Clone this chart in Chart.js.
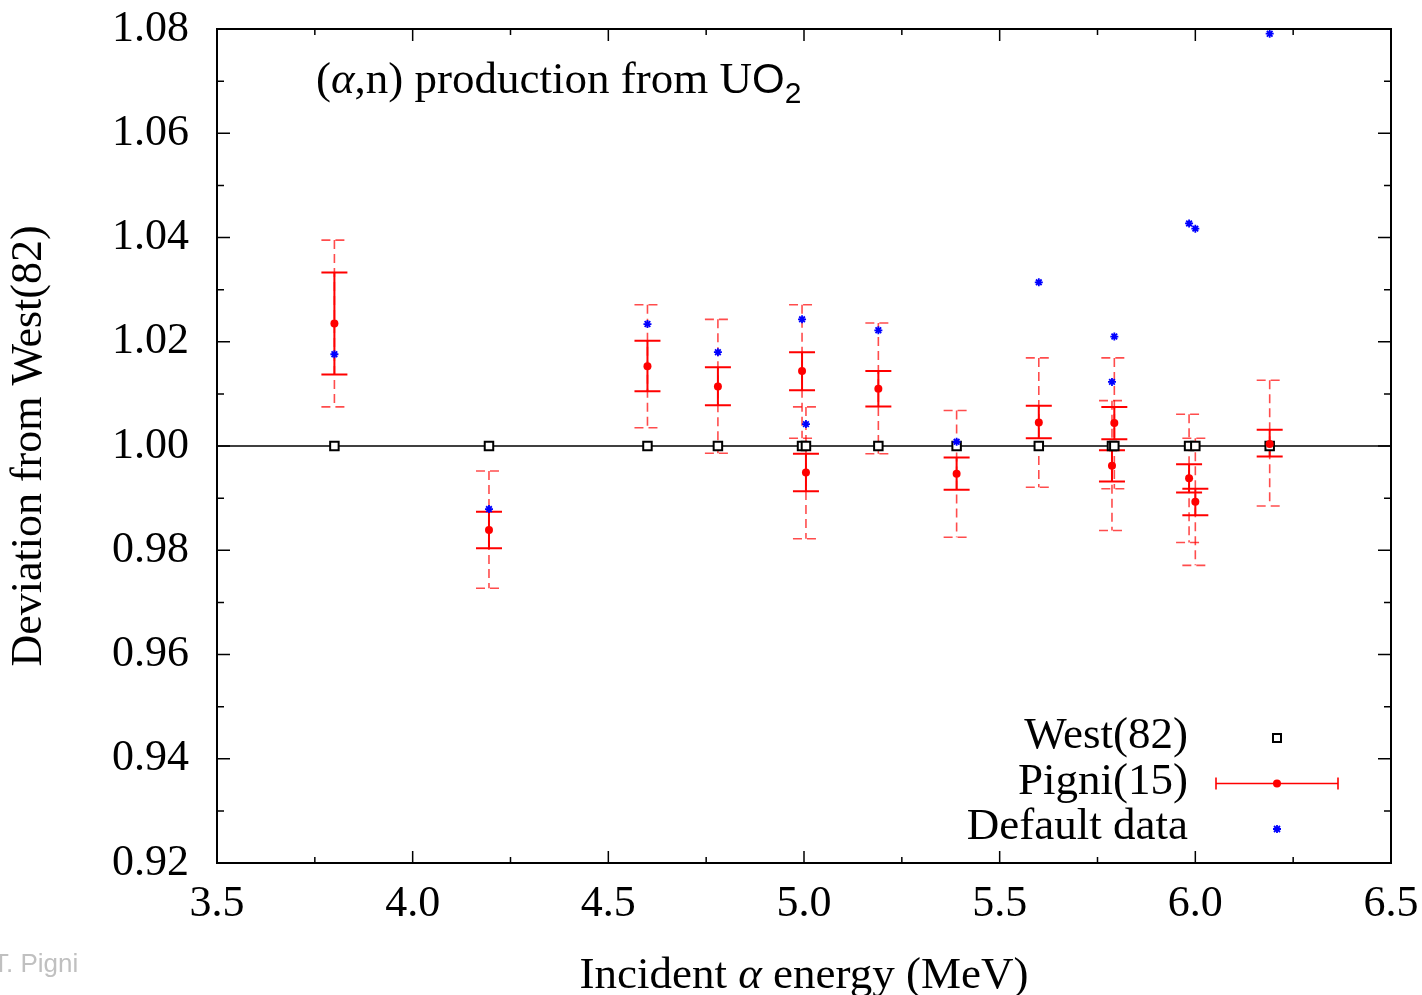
<!DOCTYPE html>
<html>
<head>
<meta charset="utf-8">
<title>(α,n) production from UO2</title>
<script src="https://cdn.jsdelivr.net/npm/chart.js"></script>
<style>
  html, body { margin: 0; padding: 0; background: #fff; }
  #wrap { position: relative; width: 1422px; height: 995px; }
</style>
</head>
<body>
<div id="wrap"><canvas id="chart"></canvas></div>
<script>
// Incident alpha energy (MeV) of each measurement
const energy = [3.80, 4.195, 4.60, 4.78, 4.995, 5.005, 5.19, 5.39, 5.60, 5.787, 5.793, 5.984, 6.00, 6.19];
// West(82) is the reference, every ratio is 1
const west = [1, 1, 1, 1, 1, 1, 1, 1, 1, 1, 1, 1, 1, 1];
// Pigni(15) ratio with its two error bands
const pigni       = [1.0235, 0.9839, 1.0153, 1.0114, 1.0144, 0.9949, 1.0110, 0.9947, 1.0045, 0.9962, 1.0044, 0.9938, 0.9893, 1.0004];
const pigniStatLo = [1.0137, 0.9804, 1.0105, 1.0078, 1.0107, 0.9913, 1.0076, 0.9916, 1.0015, 0.9932, 1.0013, 0.9911, 0.9867, 0.9980];
const pigniStatHi = [1.0333, 0.9874, 1.0202, 1.0151, 1.0180, 0.9985, 1.0144, 0.9978, 1.0077, 0.9992, 1.0075, 0.9965, 0.9918, 1.0031];
const pigniTotLo  = [1.0075, 0.9727, 1.0035, 0.9986, 1.0015, 0.9822, 0.9985, 0.9825, 0.9921, 0.9838, 0.9918, 0.9815, 0.9771, 0.9885];
const pigniTotHi  = [1.0395, 0.9952, 1.0271, 1.0243, 1.0271, 1.0075, 1.0236, 1.0068, 1.0169, 1.0087, 1.0169, 1.0061, 1.0015, 1.0126];
// Default data ratio
const defaults = [1.0176, 0.9879, 1.0234, 1.0180, 1.0243, 1.0042, 1.0222, 1.0008, 1.0314, 1.0123, 1.0210, 1.0427, 1.0417, 1.0791];

const refLevel = 1.0;
const xTicks = [3.5, 4.0, 4.5, 5.0, 5.5, 6.0, 6.5];
const xMinor = [3.75, 4.25, 4.75, 5.25, 5.75, 6.25];
const yTicks = [0.92, 0.94, 0.96, 0.98, 1.00, 1.02, 1.04, 1.06, 1.08];
const yMinor = [0.93, 0.95, 0.97, 0.99, 1.01, 1.03, 1.05, 1.07];

const serif = '"Liberation Serif", "Times New Roman", serif';
const sans = '"Liberation Sans", Arial, sans-serif';
const RED = '#ff0000';
const RED_DASH = 'rgba(255,0,0,0.7)';
const BLUE = '#0000ff';

// text made of several font runs on one baseline
function drawRuns(ctx, runs, x, y, align) {
  let w = 0;
  runs.forEach(r => { ctx.font = r.font; w += ctx.measureText(r.text).width; });
  let cx = align === 'center' ? x - w / 2 : (align === 'right' ? x - w : x);
  ctx.textAlign = 'left';
  ctx.textBaseline = 'alphabetic';
  runs.forEach(r => {
    ctx.font = r.font;
    ctx.fillText(r.text, cx, y + (r.dy || 0));
    cx += ctx.measureText(r.text).width;
  });
}

function errorBar(ctx, px, pLo, pHi, half) {
  ctx.beginPath();
  ctx.moveTo(px, pHi); ctx.lineTo(px, pLo);
  ctx.moveTo(px - half, pHi); ctx.lineTo(px + half, pHi);
  ctx.moveTo(px - half, pLo); ctx.lineTo(px + half, pLo);
  ctx.stroke();
}

function drawMark(ctx, kind, x, y) {
  ctx.save();
  if (kind === 'rect') {
    ctx.fillStyle = '#fff'; ctx.strokeStyle = '#000'; ctx.lineWidth = 2;
    ctx.fillRect(x - 4, y - 4, 8, 8);
    ctx.strokeRect(x - 4, y - 4, 8, 8);
  } else if (kind === 'circle') {
    ctx.fillStyle = RED;
    ctx.beginPath(); ctx.arc(x, y, 4, 0, Math.PI * 2); ctx.fill();
  } else {
    ctx.strokeStyle = BLUE; ctx.lineWidth = 1.8;
    ctx.beginPath();
    ctx.moveTo(x - 4, y); ctx.lineTo(x + 4, y);
    ctx.moveTo(x, y - 4); ctx.lineTo(x, y + 4);
    ctx.moveTo(x - 3, y - 3); ctx.lineTo(x + 3, y + 3);
    ctx.moveTo(x - 3, y + 3); ctx.lineTo(x + 3, y - 3);
    ctx.stroke();
  }
  ctx.restore();
}

// no extra room for labels that hang past the plot edges
function noOverhang(s) {
  s.paddingTop = 0; s.paddingBottom = 0; s.paddingLeft = 0; s.paddingRight = 0;
}

const decorations = {
  id: 'decorations',
  beforeDatasetsDraw(chart) {
    const { ctx, chartArea, scales: { x, y } } = chart;
    ctx.save();
    // line at ratio 1
    ctx.strokeStyle = '#000';
    ctx.lineWidth = 1.5;
    const yr = y.getPixelForValue(refLevel);
    ctx.beginPath(); ctx.moveTo(chartArea.left, yr); ctx.lineTo(chartArea.right, yr); ctx.stroke();

    energy.forEach((e, i) => {
      const px = x.getPixelForValue(e);
      ctx.strokeStyle = RED_DASH; ctx.lineWidth = 1.6; ctx.setLineDash([9, 5]);
      errorBar(ctx, px, y.getPixelForValue(pigniTotLo[i]), y.getPixelForValue(pigniTotHi[i]), 13);
      ctx.strokeStyle = RED; ctx.lineWidth = 2; ctx.setLineDash([]);
      errorBar(ctx, px, y.getPixelForValue(pigniStatLo[i]), y.getPixelForValue(pigniStatHi[i]), 13);
    });
    ctx.restore();
  },
  afterDraw(chart) {
    const { ctx, chartArea: a, scales: { x, y } } = chart;
    ctx.save();
    // frame and inward ticks on all four sides
    ctx.strokeStyle = '#000';
    ctx.lineWidth = 1.5;
    ctx.beginPath();
    const tickX = (vals, len) => vals.forEach(v => {
      const p = x.getPixelForValue(v);
      ctx.moveTo(p, a.bottom); ctx.lineTo(p, a.bottom - len);
      ctx.moveTo(p, a.top); ctx.lineTo(p, a.top + len);
    });
    const tickY = (vals, len) => vals.forEach(v => {
      const p = y.getPixelForValue(v);
      ctx.moveTo(a.left, p); ctx.lineTo(a.left + len, p);
      ctx.moveTo(a.right, p); ctx.lineTo(a.right - len, p);
    });
    tickX(xTicks, 12); tickX(xMinor, 6);
    tickY(yTicks, 13); tickY(yMinor, 7);
    ctx.stroke();
    ctx.lineWidth = 2;
    ctx.strokeRect(a.left, a.top, a.right - a.left, a.bottom - a.top);

    ctx.fillStyle = '#000';
    // plot label
    drawRuns(ctx, [
      { text: '(', font: '45px ' + serif },
      { text: 'α', font: 'italic 45px ' + serif },
      { text: ',n) production from U', font: '45px ' + serif },
      { text: 'O', font: '42px ' + sans },
      { text: '2', font: '30px ' + sans, dy: 10 }
    ], 316, 93, 'left');

    // x axis title
    drawRuns(ctx, [
      { text: 'Incident ', font: '45px ' + serif },
      { text: 'α', font: 'italic 45px ' + serif },
      { text: ' energy (MeV)', font: '45px ' + serif }
    ], (a.left + a.right) / 2, 988, 'center');

    // legend
    const rows = chart.data.datasets;
    ctx.font = '45px ' + serif;
    ctx.textAlign = 'right';
    ctx.textBaseline = 'alphabetic';
    rows.forEach((ds, i) => {
      const base = 748 + i * 45.5;
      ctx.fillStyle = '#000';
      ctx.fillText(ds.label, 1188, base);
      const my = base - 10;
      if (ds.pointStyle === 'circle') {
        ctx.strokeStyle = RED; ctx.lineWidth = 1.6;
        ctx.beginPath();
        ctx.moveTo(1216, my); ctx.lineTo(1338, my);
        ctx.moveTo(1216, my - 6); ctx.lineTo(1216, my + 6);
        ctx.moveTo(1338, my - 6); ctx.lineTo(1338, my + 6);
        ctx.stroke();
      }
      drawMark(ctx, ds.pointStyle, 1277, my);
    });

    // author watermark
    ctx.fillStyle = '#c0c0c0';
    ctx.font = '26px ' + sans;
    ctx.textAlign = 'left';
    ctx.fillText('T. Pigni', -7, 972);
    ctx.restore();
  }
};

const pts = (ys) => energy.map((e, i) => ({ x: e, y: ys[i] }));

new Chart(document.getElementById('chart'), {
  type: 'scatter',
  data: {
    datasets: [
      {
        label: 'West(82)',
        data: pts(west),
        pointStyle: 'rect',
        radius: 6,
        borderWidth: 2,
        borderColor: '#000',
        backgroundColor: '#fff',
        order: 3
      },
      {
        label: 'Pigni(15)',
        data: pts(pigni),
        pointStyle: 'circle',
        radius: 4,
        borderWidth: 0,
        backgroundColor: RED,
        order: 2
      },
      {
        label: 'Default data',
        data: pts(defaults),
        pointStyle: 'star',
        radius: 4,
        borderWidth: 1.8,
        borderColor: BLUE,
        backgroundColor: BLUE,
        order: 1
      }
    ]
  },
  options: {
    responsive: true,
    maintainAspectRatio: false,
    animation: false,
    events: [],
    layout: { padding: { top: 29, right: 31, left: 0, bottom: 0 } },
    plugins: {
      legend: { display: false },
      tooltip: { enabled: false }
    },
    scales: {
      x: {
        type: 'linear',
        min: 3.5,
        max: 6.5,
        afterBuildTicks: s => { s.ticks = xTicks.map(v => ({ value: v })); },
        afterFit: s => { s.height = 132; noOverhang(s); },
        grid: { display: false, drawTicks: false },
        border: { display: false },
        ticks: {
          padding: 15,
          color: '#000',
          font: { family: serif, size: 44 },
          callback: v => v.toFixed(1)
        }
      },
      y: {
        type: 'linear',
        min: 0.92,
        max: 1.08,
        afterBuildTicks: s => { s.ticks = yTicks.map(v => ({ value: v })); },
        afterFit: s => { s.width = 217; noOverhang(s); },
        grid: { display: false, drawTicks: false },
        border: { display: false },
        title: {
          display: true,
          text: 'Deviation from West(82)',
          color: '#000',
          font: { family: serif, size: 44 },
          padding: { top: 3, bottom: 0 }
        },
        ticks: {
          padding: 28,
          color: '#000',
          font: { family: serif, size: 44 },
          callback: v => v.toFixed(2)
        }
      }
    }
  },
  plugins: [decorations]
});
</script>
</body>
</html>
